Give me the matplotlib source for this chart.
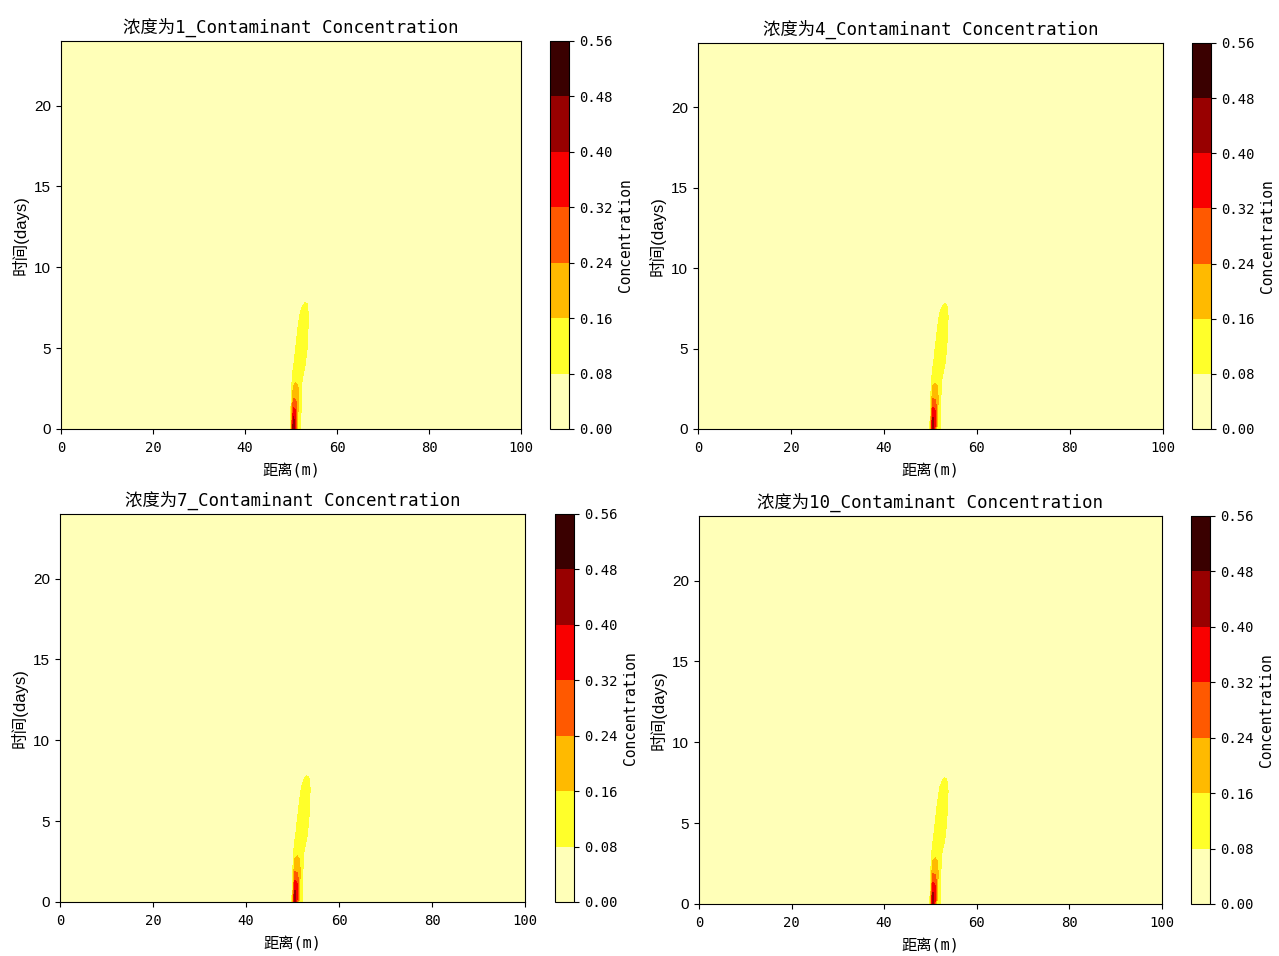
#污染物浓度时空分布图

import matplotlib
matplotlib.use("Agg")
import matplotlib.pyplot as plt
import numpy as np

plt.rcParams['font.family'] = ['DejaVu Sans Mono', 'Noto Sans CJK SC']
plt.rcParams['axes.unicode_minus'] = False

#数据
concs = [1, 4, 7, 10]
dist = [0, 49.5, 50.0, 50.5, 51.0, 51.5, 52.0, 52.5, 53.0, 53.5, 54.0, 54.5, 100]
days = [0, 0.5, 1, 1.5, 2, 3, 4, 5, 6, 7, 8, 24]
C = [
    [0, 0, 0.12, 0.47, 0.30, 0.12, 0.09, 0.03, 0, 0, 0, 0, 0],
    [0, 0, 0.10, 0.44, 0.34, 0.14, 0.09, 0.03, 0, 0, 0, 0, 0],
    [0, 0, 0.09, 0.36, 0.34, 0.16, 0.10, 0.04, 0, 0, 0, 0, 0],
    [0, 0, 0.08, 0.30, 0.28, 0.18, 0.10, 0.05, 0, 0, 0, 0, 0],
    [0, 0, 0.06, 0.22, 0.22, 0.18, 0.11, 0.05, 0, 0, 0, 0, 0],
    [0, 0, 0.04, 0.13, 0.15, 0.15, 0.12, 0.07, 0.02, 0, 0, 0, 0],
    [0, 0, 0, 0.07, 0.11, 0.14, 0.14, 0.13, 0.09, 0.04, 0, 0, 0],
    [0, 0, 0, 0.03, 0.08, 0.12, 0.14, 0.14, 0.12, 0.08, 0.02, 0, 0],
    [0, 0, 0, 0, 0.04, 0.09, 0.12, 0.13, 0.13, 0.10, 0.04, 0, 0],
    [0, 0, 0, 0, 0.01, 0.05, 0.09, 0.11, 0.12, 0.11, 0.06, 0, 0],
    [0, 0, 0, 0, 0, 0.02, 0.04, 0.06, 0.07, 0.07, 0.05, 0, 0],
    [0, 0, 0, 0, 0, 0, 0, 0, 0, 0, 0, 0, 0],
]
levels = [0, 0.08, 0.16, 0.24, 0.32, 0.40, 0.48, 0.56]

#位置
ax_pos = [[0.0477, 0.5513, 0.3597, 0.4059], [0.5457, 0.5513, 0.3636, 0.4038],
          [0.0469, 0.0565, 0.3636, 0.4059], [0.5465, 0.0544, 0.3620, 0.4059]]
cb_pos = [[0.4300, 0.5513, 0.0149, 0.4059], [0.9320, 0.5513, 0.0149, 0.4038],
          [0.4339, 0.0565, 0.0149, 0.4059], [0.9312, 0.0544, 0.0149, 0.4059]]

sans = ['Liberation Sans', 'Noto Sans CJK SC']

fig = plt.figure(figsize=(12.79, 9.56), dpi=100)
X, T = np.meshgrid(dist, days)
Z = np.array(C)

for i, c in enumerate(concs):
    ax = fig.add_axes(ax_pos[i])
    cax = fig.add_axes(cb_pos[i])
    cs = ax.contourf(X, T, Z, levels=levels, cmap='hot_r')
    ax.set_xlim(0, 100); ax.set_ylim(0, 24)
    ax.set_xticks([0, 20, 40, 60, 80, 100]); ax.set_yticks([0, 5, 10, 15, 20])
    ax.tick_params(axis='x', labelsize=10, pad=5)
    for lb in ax.get_yticklabels():
        lb.set_family(sans); lb.set_fontsize(11)
    ax.set_title('浓度为%d_Contaminant Concentration' % c, fontsize=12.5)
    ax.set_xlabel('距离(m)', fontsize=11, labelpad=6)
    ax.set_ylabel('时间(days)', fontsize=12, family=sans)
    cb = fig.colorbar(cs, cax=cax)
    cb.ax.tick_params(labelsize=10)
    cb.set_ticks(levels)
    cb.set_ticklabels(['%.2f' % v for v in levels])
    cb.set_label('Concentration', fontsize=10.5)

plt.savefig('out.png', dpi=100)
